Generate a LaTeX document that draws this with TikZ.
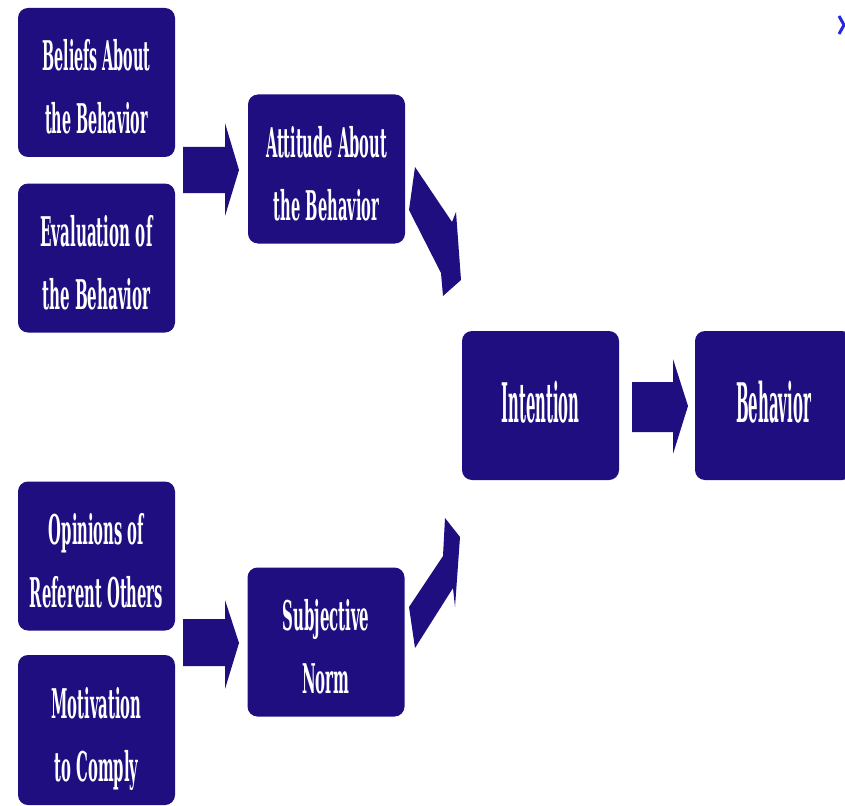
\documentclass[tikz,border=0pt]{standalone}
\usepackage{fontspec}
\setmainfont{DejaVu Serif}
\usepackage{graphicx}
\definecolor{navy}{RGB}{30,14,128}
\definecolor{chev}{RGB}{40,40,220}
\newcommand\lbl[3]{\resizebox*{#1pt}{#2pt}{\fontsize{20}{30.8}\selectfont\bfseries\begin{tabular}{@{}c@{}}#3\end{tabular}}}
\newcommand\lbltwo[2]{\raisebox{-7pt}[\height][\depth]{\lbl{#1}{126}{#2}}}
\tikzset{
  blk/.style={fill=navy, rounded corners=10pt, minimum width=157pt, minimum height=149pt, inner sep=0pt, text=white},
  blkarrow/.style={fill=navy}
}
\begin{document}
\begin{tikzpicture}[x=1pt,y=-1pt]
\useasboundingbox (0,0) rectangle (845,805);
\clip (0,0) rectangle (845,805);
\fill[white] (0,0) rectangle (845,805);

\node[blk] (bel) at (96.5,82.5) {\lbltwo{108}{Beliefs About\\the Behavior}};
\node[blk] (eva) at (96.5,258) {\lbltwo{112}{Evaluation of\\the Behavior}};
\node[blk] (att) at (326.5,169) {\lbltwo{121}{Attitude About\\the Behavior}};
\node[blk] (int) at (540.5,405.5) {\lbl{78}{84}{Intention}};
\node[blk] (beh) at (773.5,405.5) {\lbl{75}{84}{Behavior}};
\node[blk] (opi) at (96.5,556) {\lbltwo{133}{Opinions of\\Referent Others}};
\node[blk, minimum height=150pt] (mot) at (96.5,730) {\lbltwo{90}{Motivation\\to Comply}};
\node[blk] (sub) at (326,642) {\lbltwo{87}{Subjective\\Norm}};

% horizontal block arrows
\fill[blkarrow] (183,147) -- (225,147) -- (225,123) -- (239,170) -- (225,216) -- (225,193) -- (183,193) -- cycle;
\fill[blkarrow] (183,619) -- (225,619) -- (225,600) -- (239,643) -- (225,689) -- (225,666) -- (183,666) -- cycle;
\fill[blkarrow] (632,382) -- (673,382) -- (673,359) -- (688,406) -- (673,454) -- (673,432) -- (632,432) -- cycle;

% diagonal block arrows
\fill[blkarrow] (415,167) -- (452,222) -- (456,212) -- (461,280) -- (443,296) -- (441,273) -- (409,210) -- cycle;
\fill[blkarrow] (409,607) -- (443,556) -- (445,518) -- (460,537) -- (455,607) -- (453,588) -- (415,648) -- cycle;

% small chevron fragment at top right
\draw[chev, line width=3pt] (839,16) -- (844,25) -- (839,34);
\end{tikzpicture}
\end{document}
